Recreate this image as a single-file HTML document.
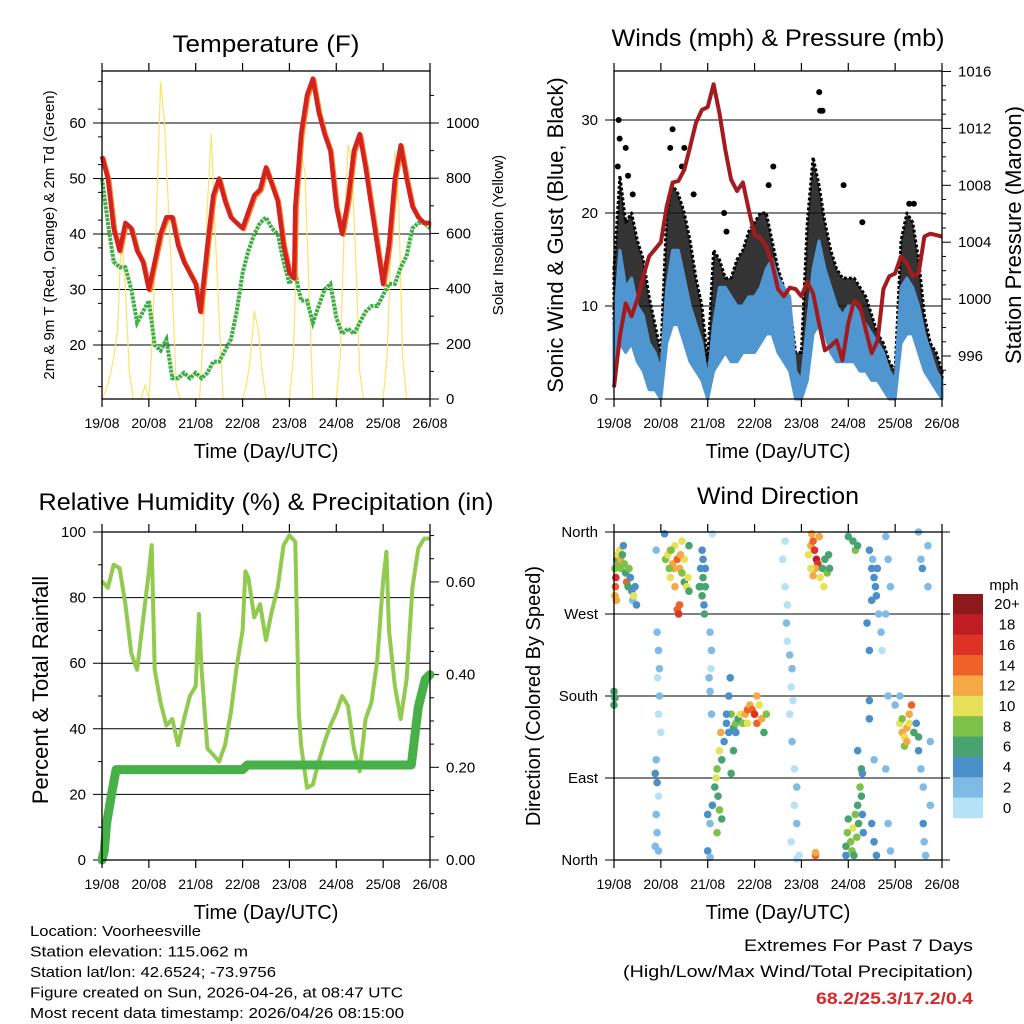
<!DOCTYPE html>
<html><head><meta charset="utf-8"><style>
html,body{margin:0;padding:0;background:#fff;width:1024px;height:1024px;overflow:hidden}
svg text{font-family:"Liberation Sans",sans-serif;fill:#000}
</style></head><body>
<svg id="chart" width="1024" height="1024" viewBox="0 0 1024 1024" xmlns="http://www.w3.org/2000/svg"></svg>
<script>
// ---------- data ----------
const dayLabels=["19/08","20/08","21/08","22/08","23/08","24/08","25/08","26/08"];
const t3=[0,0.125,0.25,0.375,0.5,0.625,0.75,0.875,1,1.125,1.25,1.375,1.5,1.625,1.75,1.875,2,2.125,2.25,2.375,2.5,2.625,2.75,2.875,3,3.125,3.25,3.375,3.5,3.625,3.75,3.875,4,4.125,4.25,4.375,4.5,4.625,4.75,4.875,5,5.125,5.25,5.375,5.5,5.625,5.75,5.875,6,6.125,6.25,6.375,6.5,6.625,6.75,6.875,7];
const tempDays=[0,0.125,0.25,0.375,0.5,0.625,0.75,0.875,1,1.125,1.25,1.375,1.5,1.625,1.75,1.875,2,2.1,2.25,2.375,2.5,2.625,2.75,2.875,3,3.125,3.25,3.375,3.5,3.625,3.75,3.875,4,4.1,4.125,4.25,4.375,4.5,4.625,4.75,4.875,5,5.125,5.25,5.375,5.5,5.625,5.75,5.875,6,6.125,6.25,6.375,6.5,6.625,6.75,6.875,7];
const tempF=[54,50,41,37,42,41,37,35,30,35,40,43,43,38,35,33,31,26,38,47,50,46,43,42,41,44,47,48,52,49,46,38,33,32,45,58,65,68,62,58,55,45,40,46,55,58,52,45,38,31,38,50,56,50,45,43,42,42];
const dewF=[50,42,35,34,34,30,24,26,28,20,19,21,14,14,15,14,15,14,15,17,17,19,21,26,33,37,40,42,43,41,40,35,31,33,28,28,24,27,30,31,25,22,23,22,24,26,27,27,29,31,31,34,36,41,42,42,41];
const solar=[0,30,80,150,250,600,400,100,0,0,0,50,
 0,250,700,1150,1000,700,400,50,0,0,0,0,
 0,0,250,700,960,600,300,0,0,0,0,0,
 0,50,150,320,250,100,0,0,0,0,0,0,
 0,150,600,900,820,400,0,0,0,0,0,0,
 0,150,600,920,850,500,100,0,0,0,0,0,
 0,150,550,900,700,150,0,0,0,0,0,0,0];
const pressure=[993.8,997.4,999.7,998.8,1000,1001.6,1003,1003.5,1004,1006.5,1008.2,1008.3,1009.1,1010.7,1012.4,1013.3,1013.5,1015.1,1013.1,1010.5,1008.4,1007.6,1008.2,1006.3,1004.5,1004.3,1003.7,1002.5,1000.7,1000.2,1000.8,1000.7,1000.2,1001.2,1000.4,998.3,996.4,996.7,997.1,995.7,998.3,999.9,999.5,997.8,996.2,997.1,1000.7,1001.6,1001.8,1003,1002.5,1001.6,1001.8,1004.4,1004.6,1004.5,1004.4];
const windHigh=[8,16,12,13,10,9,6,5,3,12,16,16,13,10,8,6,2,8,12,12,11,10,10,11,11,12,14,15,13,12,11,3,2,8,14,17,14,12,10,9,10,10,9,8,7,6,5,3,2,12,13,12,10,7,5,3,2];
const windLow=[2,6,5,6,4,3,1,1,0,6,8,8,6,4,3,2,0,3,4,5,4,4,5,5,5,6,7,7,5,4,3,0,0,2,7,8,7,5,4,4,4,4,3,3,2,2,1,0,0,6,7,7,5,3,2,1,0];
const gustHigh=[14,24,19,20,17,15,11,8,5,20,23,22,20,17,13,10,4,16,15,13,13,15,16,18,19,20,20,17,14,12,10,5,5,19,26,23,19,16,14,13,13,13,12,11,9,7,6,4,3,17,20,19,15,9,6,5,3];
const gustPeakDay=[0.08,0.1,0.12,0.25,0.3,0.4,1.2,1.25,1.45,1.5,1.7,2.35,2.4,3.3,3.4,4.38,4.4,4.45,4.9,5.3,6.3,6.4];
const gustPeakMph=[25,30,28,27,24,22,27,29,25,27,22,20,18,23,25,33,31,31,23,19,21,21];
const rhDays=[0,0.125,0.25,0.375,0.5,0.625,0.75,0.875,1,1.06,1.125,1.25,1.375,1.5,1.625,1.75,1.875,2,2.07,2.125,2.25,2.375,2.5,2.625,2.75,2.875,3,3.06,3.125,3.25,3.375,3.5,3.625,3.75,3.875,4,4.125,4.2,4.25,4.375,4.5,4.625,4.75,4.875,5,5.125,5.25,5.375,5.5,5.625,5.75,5.875,6,6.07,6.125,6.25,6.375,6.5,6.625,6.75,6.875,7];
const rhPct=[85,83,90,89,78,63,58,73,88,96,58,48,41,43,35,43,50,53,75,58,34,32,30,35,45,59,70,88,86,74,78,67,76,83,96,99,97,45,35,22,23,30,36,41,45,50,47,34,27,43,48,61,85,94,70,53,43,55,83,95,98,98];
const rainDays=[0,0.05,0.1,0.2,0.3,3.0,3.1,6.6,6.75,6.9,7.0];
const rainIn=[0,0.02,0.08,0.14,0.195,0.195,0.205,0.205,0.33,0.39,0.40];
const dirDay=[0.02,0.03,0.04,0.05,0.02,0.06,0.08,0.1,0.12,0.14,0.15,0.18,0.2,0.22,0.25,0.27,0.3,0.32,0.35,0.38,0.4,0.42,0.45,0.48,0,0,0.02,
0.9,0.92,0.95,0.93,0.97,0.95,0.9,0.88,0.92,0.95,0.9,0.92,0.88,0.95,1.08,0.97,1.0,
1.1,1.15,1.2,1.25,1.3,1.35,1.4,1.45,1.5,1.2,1.3,1.35,1.38,1.4,1.22,1.28,1.42,1.5,1.55,1.6,1.58,1.6,1.18,1.45,
1.85,1.88,1.9,1.92,1.95,1.9,1.85,1.93,1.82,1.95,1.88,
2.05,2.08,2.07,2.05,2.08,2.03,2.0,2.05,2.1,
2.0,2.05,2.1,2.15,2.2,2.25,2.28,2.3,2.22,2.18,2.25,2.35,2.4,2.45,2.48,2.5,2.45,2.55,2.6,2.65,2.7,2.75,2.8,2.85,2.9,2.95,3.0,3.05,3.1,3.15,3.2,3.25,3.05,2.6,2.55,2.5,2.3,2.2,2.4,2.85,
3.6,3.65,3.7,3.68,3.7,3.75,3.8,3.78,3.82,3.75,3.8,3.85,3.9,3.85,3.9,3.78,3.95,3.9,3.65,
4.15,4.2,4.25,4.28,4.32,4.35,4.3,4.2,4.25,4.4,4.45,4.5,4.55,4.6,4.58,4.48,4.38,4.22,4.3,4.3,
4.95,4.98,5.0,5.05,5.08,5.1,5.15,5.2,5.22,5.25,5.28,5.3,5.18,5.12,4.95,5.2,5.28,5.3,5.32,5.0,5.1,5.15,5.2,
5.45,5.5,5.55,5.58,5.6,5.5,5.65,5.7,5.72,5.52,5.62,5.4,5.45,5.45,5.45,5.55,5.5,5.55,5.6,5.8,5.85,5.9,5.8,5.85,5.8,5.85,5.9,
6.1,6.15,6.2,6.25,6.3,6.35,6.3,6.2,6.25,6.15,6.4,6.45,6.5,6.5,6.55,6.6,6.6,6.62,6.65,6.5,6.55,6.58,6.7,6.7,6.75,6.75,6.1,6.0];
const dirDeg=[290,300,310,285,320,330,335,325,340,330,320,335,345,325,315,305,300,320,310,295,285,290,300,280,185,170,178,
340,250,230,200,180,160,110,95,85,70,50,30,15,10,358,210,140,
330,335,340,325,345,330,320,315,330,310,300,275,270,280,340,320,335,305,300,295,310,345,320,350,
300,290,310,280,320,330,320,270,300,300,340,
250,230,210,185,160,200,10,3,358,
50,40,60,80,100,120,140,110,70,90,55,130,150,180,200,160,140,145,150,155,160,150,160,165,170,165,160,150,170,155,140,160,180,140,120,95,45,30,160,150,
330,300,280,260,240,225,210,190,175,160,130,100,80,60,40,20,5,1,350,
335,345,350,340,330,325,320,320,312,310,320,330,315,320,335,300,355,358,5,8,
15,30,45,20,10,35,50,60,40,80,100,95,25,5,5,120,70,50,30,355,350,340,345,
340,320,310,300,290,285,270,250,230,330,320,260,230,175,155,110,40,20,5,355,330,300,270,180,100,40,10,
150,140,135,145,160,170,150,125,130,155,140,150,135,120,100,80,40,20,5,360,330,320,345,300,130,60,180,170];
const dirSpd=[12,14,16,12,8,6,10,8,10,12,8,6,4,8,6,14,6,8,4,4,2,10,4,4,6,6,6,
2,2,2,0,2,0,2,4,4,0,2,2,2,2,4,2,0,
8,10,12,12,10,14,12,8,10,10,12,14,16,14,8,12,12,6,10,6,10,6,8,10,
6,6,6,4,4,4,4,6,6,6,4,
2,2,0,2,2,2,4,2,0,
4,2,4,6,8,10,12,6,6,10,8,4,4,4,4,8,4,6,8,6,10,8,12,14,12,14,16,14,10,12,6,8,12,4,6,6,6,8,4,10,
0,0,0,2,0,2,2,0,0,0,2,0,2,0,2,0,0,0,0,
10,12,14,16,18,16,12,10,12,10,6,6,8,6,6,10,12,12,14,12,
6,8,6,8,8,10,8,6,6,8,6,4,8,6,4,4,6,4,4,6,6,8,6,
4,4,4,4,4,4,2,2,0,2,4,4,4,4,4,2,4,4,4,2,2,2,2,2,2,2,2,
10,12,10,12,12,14,10,8,12,8,6,4,6,4,2,2,4,2,2,2,2,4,2,2,2,2,2,2];
const spdLevels=["0","2","4","6","8","10","12","14","16","18","20+"];
const spdColors=["#b5e2f7","#80bbe5","#4a8fc9","#47a46e","#7cc148","#e6e158","#f6a845","#ef6128","#dd3327","#be1d26","#8c191c"];

// ---------- helpers ----------
const NS="http://www.w3.org/2000/svg";
const svg=document.getElementById('chart');
function el(tag,attrs,parent){const e=document.createElementNS(NS,tag);for(const k in attrs)e.setAttribute(k,attrs[k]);(parent||svg).appendChild(e);return e;}
function txt(s,x,y,size,anchor,parent,extra){const e=el('text',Object.assign({x:x,y:y,'font-size':size,'text-anchor':anchor||'start'},extra||{}),parent);e.textContent=s;return e;}
function xScale(x0,x1){return d=>x0+(x1-x0)*d/7;}
function lin(v0,p0,v1,p1){return v=>p0+(v-v0)*(p1-p0)/(v1-v0);}

function frame(g,x0,x1,y0,y1,name){
  const f=el('g',{},g);
  
  el('rect',{x:x0,y:y0,width:x1-x0,height:y1-y0,fill:'none',stroke:'#000','stroke-width':1.3},f);
  const X=xScale(x0,x1);
  for(let i=0;i<=7;i++){
    el('line',{x1:X(i),x2:X(i),y1:y1,y2:y1+8,stroke:'#000','stroke-width':1.2},f);
    el('line',{x1:X(i),x2:X(i),y1:y0,y2:y0-8,stroke:'#000','stroke-width':1.2},f);
    const t=txt(dayLabels[i],X(i),y1+29,14,'middle',f);
    
  }
  const at=txt('Time (Day/UTC)',(x0+x1)/2,y1+59,20,'middle',f);
  
}
function leftTicks(g,x0,x1,vals,labels,Y,minor,gridTo){
  vals.forEach((v,i)=>{const y=Y(v);
    el('line',{x1:x0-9,x2:gridTo,y1:y,y2:y,stroke:'#000','stroke-width':1},g);
    const t=txt(labels[i],x0-16,y+5,15,'end',g);
    });
  minor.forEach(v=>el('line',{x1:x0-4,x2:x0,y1:Y(v),y2:Y(v),stroke:'#000','stroke-width':1},g));
}
function rightTicks(g,x1,vals,labels,Y,minor,size){
  vals.forEach((v,i)=>{const y=Y(v);
    el('line',{x1:x1,x2:x1+9,y1:y,y2:y,stroke:'#000','stroke-width':1},g);
    const t=txt(labels[i],x1+16,y+5,size||15,'start',g);
    });
  minor.forEach(v=>el('line',{x1:x1,x2:x1+4,y1:Y(v),y2:Y(v),stroke:'#000','stroke-width':1},g));
}
function path(xs,ys){return xs.map((x,i)=>(i?'L':'M')+x.toFixed(1)+','+ys[i].toFixed(1)).join('');}
function rng(a,b,s){const r=[];for(let v=a;v<=b+1e-9;v+=s)r.push(+v.toFixed(4));return r;}

// ---------- Panel 1: temperature ----------
(function(){
  const g=el('g',{});
  const x0=102,x1=430,y0=71,y1=399;
  const X=xScale(x0,x1), Y=lin(20,345,60,123), S=lin(0,399,1000,123);
  const t=txt('Temperature (F)',266,52,24,'middle',g,{textLength:187,lengthAdjust:'spacingAndGlyphs'});
  
  leftTicks(g,x0,x1,[20,30,40,50,60],["20","30","40","50","60"],Y,rng(12.5,67.5,5),x1);
  rightTicks(g,x1,[0,200,400,600,800,1000],["0","200","400","600","800","1000"],S,rng(100,1100,100).filter(v=>v%200));
  const s=el('path',{d:path(solar.map((v,i)=>X(i/12)),solar.map(S)),fill:'none',stroke:'#fce36a','stroke-width':1.2},g);
  
  const d=el('path',{d:path(t3.map(X),dewF.map(Y)),fill:'none',stroke:'#3fae44','stroke-width':4,'stroke-dasharray':'3 1'},g);
  
  const o=el('path',{d:path(tempDays.map(v=>X(v)+1.5),tempF.map(v=>Y(v)+1)),fill:'none',stroke:'#f4892c','stroke-width':4,'stroke-linejoin':'round'},g);
  
  const r=el('path',{d:path(tempDays.map(X),tempF.map(Y)),fill:'none',stroke:'#d4231f','stroke-width':4.5,'stroke-linejoin':'round'},g);
  
  frame(g,x0,x1,y0,y1,'temperature');
  const yl=txt('2m & 9m T (Red, Orange) & 2m Td (Green)',0,0,15,'middle',g,{transform:'translate(54,235) rotate(-90)'});
  
  const yr=txt('Solar Insolation (Yellow)',0,0,15,'middle',g,{transform:'translate(503,235) rotate(-90)'});
  
})();

// ---------- Panel 2: winds & pressure ----------
(function(){
  const g=el('g',{});
  const x0=614,x1=942,y0=71,y1=399;
  const X=xScale(x0,x1), Y=lin(0,399,30,120), P=lin(996,356,1016,71.5);
  const t=txt('Winds (mph) & Pressure (mb)',778,46,24,'middle',g,{textLength:333,lengthAdjust:'spacingAndGlyphs'});
  
  leftTicks(g,x0,x1,[0,10,20,30],["0","10","20","30"],Y,[],x1);
  el('line',{x1:x0,x2:x1,y1:y0,y2:y0,stroke:'#000','stroke-width':1},g);
  rightTicks(g,x1,[996,1000,1004,1008,1012,1016],["996","1000","1004","1008","1012","1016"],P,rng(994,1016,1).filter(v=>v%4));
  const gx=t3.map(X);
  const rev=a=>a.slice().reverse();
  const ga=el('path',{d:path(gx,gustHigh.map(Y))+path(rev(gx),rev(windLow).map(v=>Y(v+1))).replace('M','L')+'Z',fill:'#111','fill-opacity':0.85,stroke:'#000','stroke-width':3,'stroke-dasharray':'3 2','stroke-linejoin':'round'},g);
  
  gustPeakDay.forEach((d,i)=>{const c=el('circle',{cx:X(d),cy:Y(gustPeakMph[i]),r:3,fill:'#000'},g);
    });
  const wb=el('path',{d:path(gx,windHigh.map(Y))+path(rev(gx),rev(windLow).map(Y)).replace('M','L')+'Z',fill:'#4f95d0',stroke:'#4f95d0','stroke-width':3,'stroke-linejoin':'round'},g);
  
  const p=el('path',{d:path(gx,pressure.map(P)),fill:'none',stroke:'#a31b1f','stroke-width':4,'stroke-linejoin':'round'},g);
  
  frame(g,x0,x1,y0,y1,'wind');
  const yl=txt('Sonic Wind & Gust (Blue, Black)',0,0,22,'middle',g,{transform:'translate(563,235) rotate(-90)'});
  
  const yr=txt('Station Pressure (Maroon)',0,0,22,'middle',g,{transform:'translate(1021,235) rotate(-90)'});
  
})();

// ---------- Panel 3: RH & precip ----------
(function(){
  const g=el('g',{});
  const x0=102,x1=430,y0=532,y1=860;
  const X=xScale(x0,x1), Y=lin(0,860,100,532), R=lin(0,860,0.2,767.3);
  const t=txt('Relative Humidity (%) & Precipitation (in)',266,510,24,'middle',g,{textLength:455,lengthAdjust:'spacingAndGlyphs'});
  
  leftTicks(g,x0,x1,[0,20,40,60,80,100],["0","20","40","60","80","100"],Y,rng(10,90,20),x1);
  rightTicks(g,x1,[0,0.2,0.4,0.6],["0.00","0.20","0.40","0.60"],R,[0.05,0.1,0.15,0.25,0.3,0.35,0.45,0.5,0.55,0.65,0.7]);
  const h=el('path',{d:path(rhDays.map(X),rhPct.map(Y)),fill:'none',stroke:'#92c94f','stroke-width':4,'stroke-linejoin':'round'},g);
  
  const r=el('path',{d:path(rainDays.map(X),rainIn.map(R)),fill:'none',stroke:'#48b049','stroke-width':9,'stroke-linejoin':'round','stroke-linecap':'round'},g);
  
  frame(g,x0,x1,y0,y1,'humidity');
  const yl=txt('Percent & Total Rainfall',0,0,22,'middle',g,{transform:'translate(48,690) rotate(-90)'});
  
})();

// ---------- Panel 4: wind direction ----------
(function(){
  const g=el('g',{});
  const x0=614,x1=942,y0=532,y1=860;
  const X=xScale(x0,x1), Y=lin(0,860,360,532);
  const t=txt('Wind Direction',778,504,24,'middle',g,{textLength:162,lengthAdjust:'spacingAndGlyphs'});
  
  leftTicks(g,x0,x1,[0,90,180,270,360],["North","East","South","West","North"],Y,[],x1+8);
  dirDay.forEach((d,i)=>{
    const idx=Math.min(10,Math.floor(dirSpd[i]/2));
    const c=el('circle',{cx:X(d),cy:Y(dirDeg[i]),r:3.8,fill:spdColors[idx]},g);
    
  });
  frame(g,x0,x1,y0,y1,'wind-direction');
  const yl=txt('Direction (Colored By Speed)',0,0,20,'middle',g,{transform:'translate(540,696) rotate(-90)'});
  
  const lg=el('g',{},g);
  const mt=txt('mph',1004,590,15,'middle',lg);
  
  const bh=(818-594)/11;
  for(let k=0;k<11;k++){
    const lev=10-k;
    const b=el('rect',{x:953,y:594+k*bh,width:30,height:bh+0.3,fill:spdColors[lev]},lg);
    
    const l=txt(spdLevels[lev],1007,594+k*bh+bh/2+5,15,'middle',lg);
    
  }
})();

// ---------- footer text ----------
(function(){
  const g=el('g',{});
  const lines=["Location: Voorheesville","Station elevation: 115.062 m","Station lat/lon: 42.6524; -73.9756","Figure created on Sun, 2026-04-26, at 08:47 UTC","Most recent data timestamp: 2026/04/26 08:15:00"];
  const widths=[171,218,246,373,374];
  lines.forEach((s,i)=>{const t=txt(s,30,936+i*20.5,15,'start',g,{textLength:widths[i],lengthAdjust:'spacingAndGlyphs'});
    });
  const e=el('g',{});
  const a=txt('Extremes For Past 7 Days',973,951,17,'end',e,{textLength:229,lengthAdjust:'spacingAndGlyphs'});
  
  const b=txt('(High/Low/Max Wind/Total Precipitation)',973,977,17,'end',e,{textLength:350,lengthAdjust:'spacingAndGlyphs'});
  
  const c=txt('68.2/25.3/17.2/0.4',973,1004,17,'end',e,{textLength:157,lengthAdjust:'spacingAndGlyphs','font-weight':'bold',style:'fill:#d22a2a'});
  
})();
</script>
</body></html>
